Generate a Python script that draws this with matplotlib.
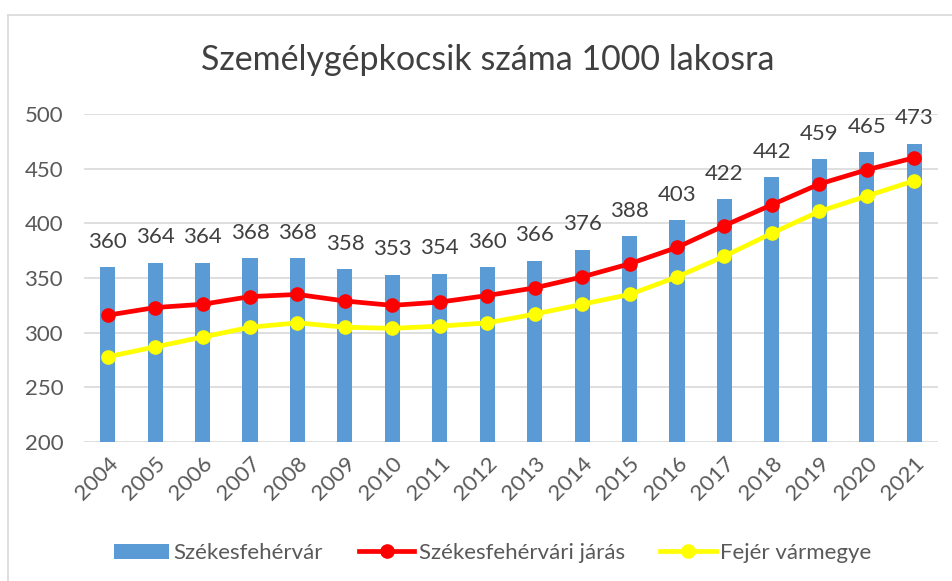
import matplotlib
matplotlib.use("Agg")
import matplotlib.pyplot as plt
from matplotlib.lines import Line2D
import numpy as np

plt.rcParams['font.family'] = ['Lato', 'DejaVu Sans']

years = [str(y) for y in range(2004, 2022)]
szekesfehervar = [360, 364, 364, 368, 368, 358, 353, 354, 360, 366, 376, 388, 403, 422, 442, 459, 465, 473]
jaras = [316, 323, 326, 333, 335, 329, 325, 328, 334, 341, 351, 363, 378, 398, 417, 436, 449, 460]
megye = [278, 287, 296, 305, 309, 305, 304, 306, 309, 317, 326, 335, 351, 370, 391, 411, 425, 439]

fig = plt.figure(figsize=(9.53, 5.81), dpi=100)
ax = fig.add_axes([0.0881, 0.2392, 0.8961, 0.5645])

x = np.arange(len(years))
b = ax.bar(x, szekesfehervar, width=0.32, color='#5B9BD5', label='Székesfehérvár', zorder=2)
l1, = ax.plot(x, jaras, color='#FF0000', lw=3.4, marker='o', ms=9.5, label='Székesfehérvári járás', zorder=3)
l2, = ax.plot(x, megye, color='#FFFF00', lw=3.4, marker='o', ms=9.5, label='Fejér vármegye', zorder=3)

for xi, v in zip(x, szekesfehervar):
    ax.annotate(str(v), (xi, v), xytext=(0, 11), textcoords='offset points',
                ha='center', va='bottom', fontsize=16, color='#404040')

ax.set_xlim(-0.5, len(years) - 0.5)
ax.set_ylim(200, 500)
ax.set_yticks(range(200, 501, 50))
ax.set_xticks(x)
ax.set_xticklabels(years, rotation=45, ha='right', rotation_mode='anchor')
ax.tick_params(axis='both', length=0, labelsize=16, labelcolor='#595959')
ax.tick_params(axis='y', pad=15)
ax.tick_params(axis='x', pad=8)
ax.grid(axis='y', color='#D9D9D9', lw=1.2, zorder=0)
for s in ax.spines.values():
    s.set_visible(False)

fig.text(0.512, 0.897, 'Személygépkocsik száma 1000 lakosra', ha='center', va='center',
         fontsize=24.5, color='#404040')

fig.legend([b, l1, l2], ['Székesfehérvár', 'Székesfehérvári járás', 'Fejér vármegye'],
           loc='center', bbox_to_anchor=(0.517, 0.048), ncol=3, frameon=False,
           fontsize=16, labelcolor='#595959', handlelength=2.5, columnspacing=1.6,
           handletextpad=0.2)

# chart border (left and top edges visible)
fig.add_artist(Line2D([0.0084, 0.0084], [0.0, 0.974], color='#D9D9D9', lw=1.2))
fig.add_artist(Line2D([0.0084, 1.0], [0.974, 0.974], color='#D9D9D9', lw=1.2))

fig.savefig('out.png', dpi=100)
